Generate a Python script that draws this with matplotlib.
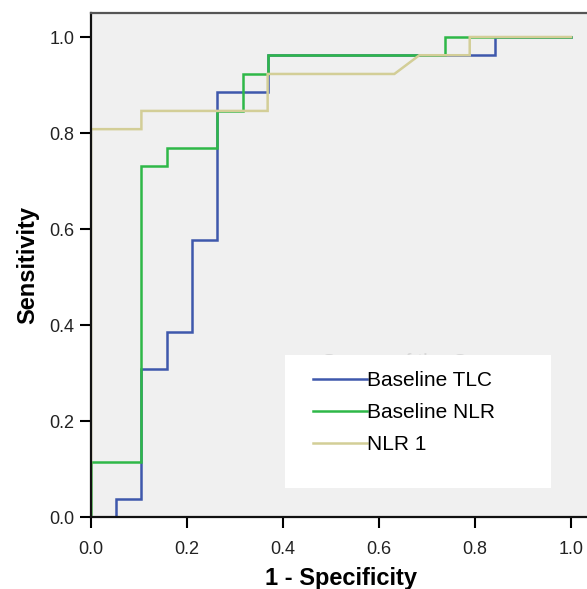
import matplotlib.pyplot as plt
from matplotlib.patches import Rectangle

plt.rcParams['font.family'] = ['Liberation Sans', 'DejaVu Sans']

# ROC curve corner points (1 - specificity, sensitivity)
tlc_fpr = [0, 0.053, 0.053, 0.105, 0.105, 0.158, 0.158, 0.211, 0.211, 0.263, 0.263, 0.368, 0.368, 0.842, 0.842, 1.0]
tlc_tpr = [0, 0, 0.038, 0.038, 0.308, 0.308, 0.385, 0.385, 0.577, 0.577, 0.885, 0.885, 0.962, 0.962, 1.0, 1.0]

nlr_fpr = [0, 0, 0.105, 0.105, 0.158, 0.158, 0.263, 0.263, 0.316, 0.316, 0.368, 0.368, 0.737, 0.737, 1.0]
nlr_tpr = [0, 0.115, 0.115, 0.731, 0.731, 0.769, 0.769, 0.846, 0.846, 0.923, 0.923, 0.962, 0.962, 1.0, 1.0]

nlr1_fpr = [0, 0, 0.105, 0.105, 0.368, 0.368, 0.632, 0.684, 0.789, 0.789, 1.0]
nlr1_tpr = [0, 0.808, 0.808, 0.846, 0.846, 0.923, 0.923, 0.962, 0.962, 1.0, 1.0]

labels = ["Baseline TLC", "Baseline NLR", "NLR 1"]
colors = ["#3E58AC", "#2EB848", "#D3CE97"]
ticks = [0.0, 0.2, 0.4, 0.6, 0.8, 1.0]

W, H = 587, 589
X0, Y0, S = 91, 517, 480   # pixel position of (0, 0) and pixels per unit

fig = plt.figure(figsize=(W / 100, H / 100), dpi=100)
# axes top at y=13px, runs off the right side of the picture
ax = fig.add_axes([X0 / W, (H - Y0) / H, 500 / W, (Y0 - 13) / H])
ax.set_facecolor("#F0F0F0")

curves = [(tlc_fpr, tlc_tpr), (nlr_fpr, nlr_tpr), (nlr1_fpr, nlr1_tpr)]
handles = []
for (x, y), lab, c in zip(curves, labels, colors):
    h, = ax.plot(x, y, color=c, lw=1.8, label=lab, solid_joinstyle="miter")
    handles.append(h)

ax.set_xlim(0, 500 / S)
ax.set_ylim(0, (Y0 - 13) / S)
ax.set_xticks(ticks)
ax.set_yticks(ticks)
ax.set_xticklabels([f"{t:.1f}" for t in ticks], fontsize=13, color="#222222")
ax.set_yticklabels([f"{t:.1f}" for t in ticks], fontsize=13, color="#222222")
ax.tick_params(axis="x", direction="out", length=8, width=1.5, pad=9)
ax.tick_params(axis="y", direction="out", length=8, width=1.5, pad=4)

for s in ["left", "bottom"]:
    ax.spines[s].set_linewidth(1.6)
    ax.spines[s].set_color("#111111")
ax.spines["top"].set_linewidth(1.6)
ax.spines["top"].set_color("#555555")
ax.spines["right"].set_visible(False)

ax.set_xlabel("1 - Specificity", fontsize=17, fontweight="bold", labelpad=7)
ax.set_ylabel("Sensitivity", fontsize=17, fontweight="bold", labelpad=7)


def px(x, y):
    # pixel position -> data coordinates
    return (x - X0) / S, (Y0 - y) / S


# white legend box
bx, by = px(285, 488)
ax.add_patch(Rectangle((bx, by), (551 - 285) / S, (488 - 355) / S,
                       facecolor="white", edgecolor="none", zorder=4))

# legend title: only its top shows above the white box
title = ax.text(*px(415, 362), "Source of the Curve", fontsize=15,
                color="#d8d8d8", ha="center", va="center", zorder=3)
cx, cy = px(285, 355)
clip = Rectangle((cx, cy), (551 - 285) / S, 30 / S, transform=ax.transData)
title.set_clip_path(clip)

leg = ax.legend(handles=handles, loc="upper left", bbox_to_anchor=px(313, 371),
                bbox_transform=ax.transData,
                frameon=False, fontsize=15, handlelength=2.6, handletextpad=0.0,
                labelspacing=0.62, borderaxespad=0, borderpad=0)
leg.set_zorder(5)

fig.savefig("out.png", dpi=100)
